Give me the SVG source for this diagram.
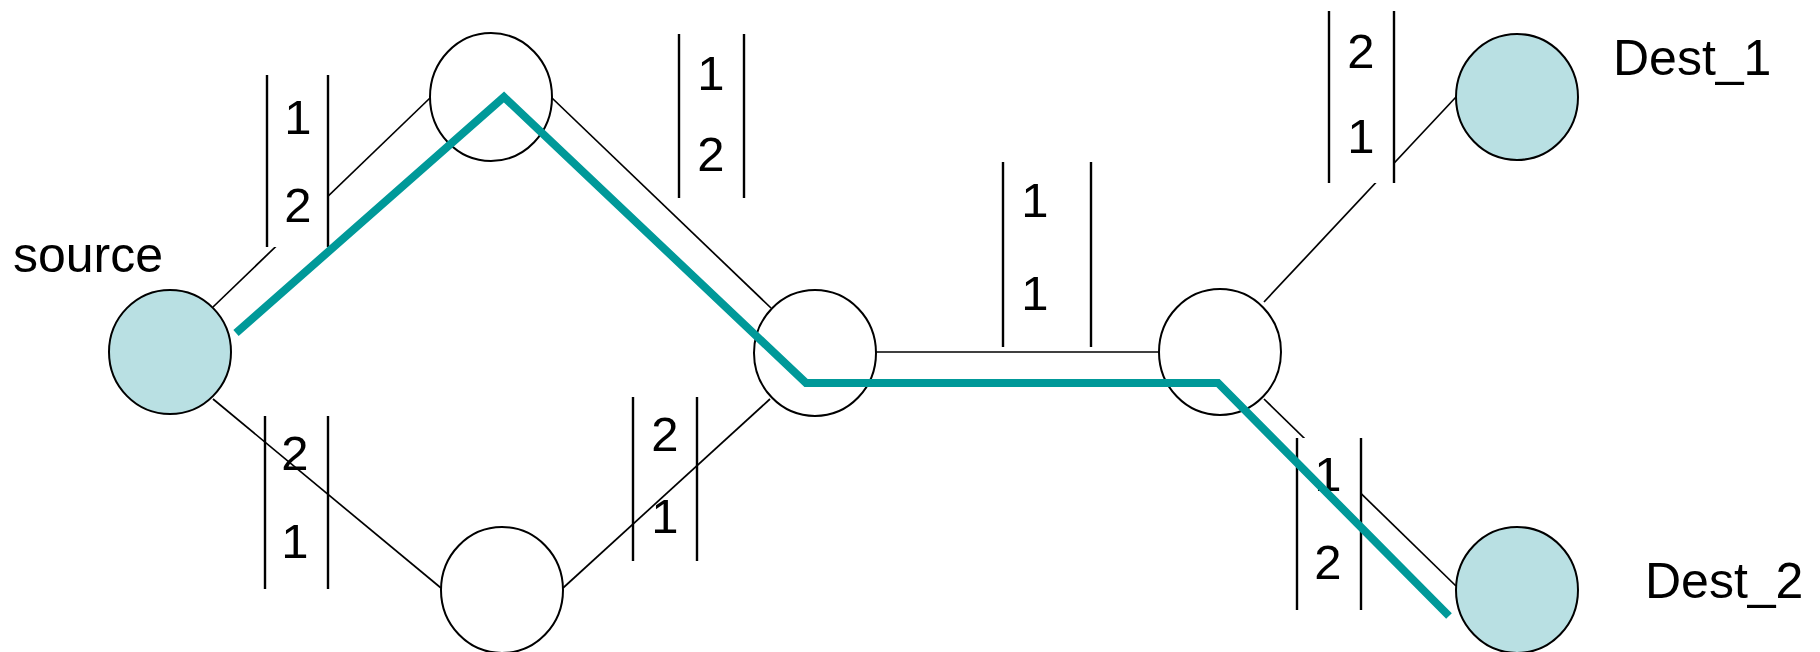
<svg xmlns="http://www.w3.org/2000/svg" width="1820" height="652" viewBox="0 0 1820 652">
<style>
.conn{stroke:#000;stroke-width:1.7;fill:none}
.node{stroke:#000;stroke-width:2;fill:#fff}
.end{stroke:#000;stroke-width:2;fill:#B9E0E3}
.bar{stroke:#000;stroke-width:2.4}
.mask{fill:#fff;stroke:none}
.dig{font-family:"Liberation Sans",Arial,sans-serif;font-size:49px;fill:#000;text-anchor:middle}
.lbl{font-family:"Liberation Sans",Arial,sans-serif;font-size:50px;fill:#000}
.path{stroke:#009999;stroke-width:8;fill:none;stroke-linejoin:miter;stroke-linecap:butt}
</style>
<rect width="1820" height="652" fill="#fff"/>
<g id="connectors">
<line class="conn" x1="213" y1="307" x2="430" y2="98"/>
<line class="conn" x1="213" y1="399" x2="441" y2="588"/>
<line class="conn" x1="563" y1="588" x2="770" y2="399"/>
<line class="conn" x1="552" y1="98" x2="771" y2="308"/>
<line class="conn" x1="876" y1="352" x2="1159" y2="352"/>
<line class="conn" x1="1264" y1="302" x2="1456" y2="97"/>
<line class="conn" x1="1264" y1="399" x2="1456" y2="586"/>
</g>
<g id="queue-tl">
<rect class="mask" x="267" y="75" width="61" height="172"/>
<line class="bar" x1="267" y1="75" x2="267" y2="247"/>
<line class="bar" x1="328" y1="75" x2="328" y2="247"/>
<text class="dig" x="298" y="134">1</text>
<text class="dig" x="298" y="222">2</text>
</g>
<g id="queue-tm">
<line class="bar" x1="679" y1="34" x2="679" y2="198"/>
<line class="bar" x1="744" y1="34" x2="744" y2="198"/>
<text class="dig" x="711" y="90">1</text>
<text class="dig" x="711" y="171">2</text>
</g>
<g id="queue-c">
<line class="bar" x1="1003" y1="162" x2="1003" y2="347"/>
<line class="bar" x1="1091" y1="162" x2="1091" y2="347"/>
<text class="dig" x="1035" y="217">1</text>
<text class="dig" x="1035" y="310">1</text>
</g>
<g id="queue-tr">
<rect class="mask" x="1329" y="11" width="65" height="172"/>
<line class="bar" x1="1329" y1="11" x2="1329" y2="183"/>
<line class="bar" x1="1394" y1="11" x2="1394" y2="183"/>
<text class="dig" x="1361" y="68">2</text>
<text class="dig" x="1361" y="153">1</text>
</g>
<g id="queue-bl">
<line class="bar" x1="265" y1="416" x2="265" y2="589"/>
<line class="bar" x1="328" y1="416" x2="328" y2="589"/>
<text class="dig" x="295" y="470">2</text>
<text class="dig" x="295" y="558">1</text>
</g>
<g id="queue-bm">
<line class="bar" x1="633" y1="397" x2="633" y2="561"/>
<line class="bar" x1="697" y1="397" x2="697" y2="561"/>
<text class="dig" x="665" y="451">2</text>
<text class="dig" x="665" y="533">1</text>
</g>
<g id="queue-br">
<rect class="mask" x="1297" y="438" width="64" height="172"/>
<line class="bar" x1="1297" y1="438" x2="1297" y2="610"/>
<line class="bar" x1="1361" y1="438" x2="1361" y2="610"/>
<text class="dig" x="1328" y="491">1</text>
<text class="dig" x="1328" y="579">2</text>
</g>
<g id="source">
<ellipse class="end" cx="170" cy="352" rx="61" ry="62"/>
<text class="lbl" x="13" y="272">source</text>
</g>
<g id="nodeA"><ellipse class="node" cx="491" cy="97" rx="61" ry="64"/></g>
<g id="nodeB"><ellipse class="node" cx="502" cy="590" rx="61" ry="63"/></g>
<g id="nodeC"><ellipse class="node" cx="815" cy="353" rx="61" ry="63"/></g>
<g id="nodeD"><ellipse class="node" cx="1220" cy="352" rx="61" ry="63"/></g>
<g id="dest1">
<ellipse class="end" cx="1517" cy="97" rx="61" ry="63"/>
<text class="lbl" x="1613" y="75">Dest_1</text>
</g>
<g id="dest2">
<ellipse class="end" cx="1517" cy="590" rx="61" ry="63"/>
<text class="lbl" x="1645" y="598">Dest_2</text>
</g>
<g id="route">
<polyline class="path" points="236,333 504,97 806,383 1218,383 1449,616"/>
</g>
</svg>
